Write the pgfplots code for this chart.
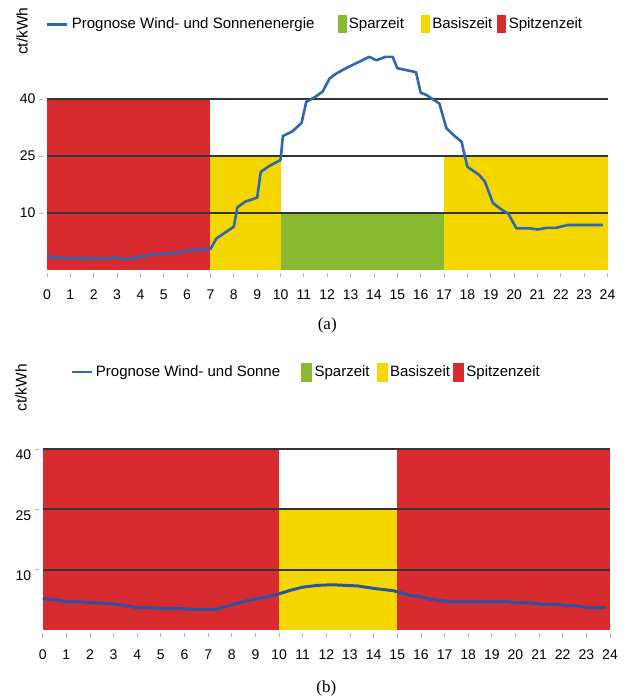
\documentclass[border=0pt]{standalone}
\usepackage{pgfplots}
\pgfplotsset{compat=1.18}
\usepackage{fontspec}
\setmainfont{Liberation Sans}
\newfontfamily\capfont{Liberation Serif}
\definecolor{cred}{HTML}{D82B2F}
\definecolor{cyel}{HTML}{F5D700}
\definecolor{cgrn}{HTML}{8ABA32}
\definecolor{cbluea}{HTML}{2D67AF}
\definecolor{cblueb}{HTML}{2B52A0}
\definecolor{cgrid}{HTML}{333333}
\pgfplotsset{bandchart/.style={
  scale only axis, axis line style={draw=none}, tick pos=left, tick align=outside,
  xmin=0, xmax=24, ymin=0, xtick={0,...,24}, ytick={1,2,3}, yticklabels={10,25,40},
  major tick length=4pt, tick style={draw=black!30, line width=0.8pt},
  xtick style={yshift=-3pt}, ytick style={xshift=-4pt},
  ticklabel style={font=\fontsize{14}{16}\selectfont},
  xticklabel style={yshift=-12pt},
  yticklabel style={xshift=-4pt},
  /pgf/number format/assume math mode=true,
  clip=false,
  legend columns=4,
  legend style={draw=none, fill=none, font=\fontsize{15}{17}\selectfont, anchor=west,
    inner sep=0pt, nodes={inner xsep=3pt, inner ysep=0pt}},
  ylabel={ct/kWh}, ylabel style={font=\fontsize{15.5}{17}\selectfont, anchor=center},
  xlabel style={font=\capfont\fontsize{17}{19}\selectfont, anchor=center},
}}
\begin{document}
\begin{tikzpicture}
\useasboundingbox (0pt,0pt) rectangle (624pt,-699pt);
% ---------------- panel (a)
\begin{axis}[bandchart,
  at={(47pt,-270pt)}, anchor=south west,
  width=560.5pt, height=216.6pt, ymax=3.8,
  ylabel style={at={(axis description cs:-0.0446,1.103)}},
  xlabel={(a)}, xlabel style={at={(axis description cs:0.5,-0.254)}},
  legend style={at={(axis description cs:-0.002,1.135)},
    /tikz/column 2/.style={column sep=20pt},
    /tikz/column 4/.style={column sep=14pt},
    /tikz/column 6/.style={column sep=2pt}},
]
\addplot[fill=cred, draw=none, forget plot] coordinates {(0,3) (7,3)} \closedcycle;
\addplot[fill=cyel, draw=none, forget plot] coordinates {(7,2) (10,2)} \closedcycle;
\addplot[fill=cgrn, draw=none, forget plot] coordinates {(10,1) (17,1)} \closedcycle;
\addplot[fill=cyel, draw=none, forget plot] coordinates {(17,2) (24,2)} \closedcycle;
\addplot[cgrid, line width=1.8pt, forget plot] coordinates {(0,1) (24,1)};
\addplot[cgrid, line width=1.8pt, forget plot] coordinates {(0,2) (24,2)};
\addplot[cgrid, line width=1.8pt, forget plot] coordinates {(0,3) (24,3)};
\addplot[cbluea, line width=2.6pt, line join=round, forget plot] coordinates {
(0,0.245)(0.3,0.22)(1,0.205)(2,0.2)(2.7,0.2)(3,0.225)(3.3,0.19)(3.6,0.2)(4,0.235)
(4.5,0.27)(5,0.29)(5.5,0.3)(6,0.335)(6.5,0.36)(7,0.37)(7.25,0.55)(7.6,0.65)(8,0.76)
(8.15,1.1)(8.5,1.2)(9,1.27)(9.15,1.72)(9.5,1.82)(10,1.93)(10.1,2.35)(10.5,2.43)
(10.9,2.58)(11.1,2.95)(11.5,3.04)(11.8,3.13)(12.1,3.36)(12.4,3.45)(12.8,3.54)
(13.3,3.64)(13.8,3.74)(14.1,3.68)(14.5,3.74)(14.8,3.74)(15.0,3.54)(15.8,3.47)
(16.0,3.11)(16.25,3.07)(16.8,2.92)(17.1,2.49)(17.4,2.37)(17.75,2.25)(18.0,1.81)
(18.5,1.67)(18.75,1.55)(19.1,1.17)(19.5,1.05)(19.75,0.99)(20.1,0.73)(20.7,0.73)
(21.0,0.71)(21.4,0.74)(21.8,0.74)(22.3,0.79)(23.8,0.79)};
\addlegendimage{legend image code/.code={\draw[cbluea, line width=2.8pt] (0pt,0pt) -- (20pt,0pt);}}
\addlegendimage{legend image code/.code={\fill[cgrn] (0pt,-8.5pt) rectangle (8pt,8.5pt);}}
\addlegendimage{legend image code/.code={\fill[cyel] (0pt,-8.5pt) rectangle (8pt,8.5pt);}}
\addlegendimage{legend image code/.code={\fill[cred] (0pt,-8.5pt) rectangle (8pt,8.5pt);}}
\legend{Prognose Wind- und Sonnenenergie, Sparzeit, Basiszeit, Spitzenzeit}
\end{axis}
% ---------------- panel (b)
\begin{axis}[bandchart,
  at={(42.7pt,-630pt)}, anchor=south west,
  width=567.3pt, height=181pt, ymax=3,
  yticklabel style={yshift=-6pt},
  ylabel style={at={(axis description cs:-0.038,1.337)}},
  xlabel={(b)}, xlabel style={at={(axis description cs:0.5,-0.32)}},
  legend style={at={(axis description cs:0.048,1.425)},
    /tikz/column 2/.style={column sep=18pt},
    /tikz/column 4/.style={column sep=4pt},
    /tikz/column 6/.style={column sep=0pt}},
]
\addplot[fill=cred, draw=none, forget plot] coordinates {(0,3) (10,3)} \closedcycle;
\addplot[fill=cyel, draw=none, forget plot] coordinates {(10,2) (15,2)} \closedcycle;
\addplot[fill=cred, draw=none, forget plot] coordinates {(15,3) (24,3)} \closedcycle;
\addplot[cgrid, line width=1.8pt, forget plot] coordinates {(0,1) (24,1)};
\addplot[cgrid, line width=1.8pt, forget plot] coordinates {(0,2) (24,2)};
\addplot[cgrid, line width=1.8pt, forget plot] coordinates {(0,3) (24,3)};
\addplot[cblueb, line width=3pt, line join=round, forget plot] coordinates {
(0,0.52)(0.5,0.5)(1,0.47)(1.5,0.47)(2,0.45)(2.5,0.45)(3,0.43)(3.5,0.41)(4,0.37)
(4.5,0.37)(5,0.36)(5.5,0.36)(6,0.35)(6.5,0.34)(7,0.34)(7.3,0.34)(7.8,0.39)(8.3,0.45)
(8.7,0.49)(9.1,0.52)(9.6,0.56)(10,0.60)(10.5,0.66)(11,0.71)(11.65,0.74)(12.24,0.75)
(12.8,0.74)(13.33,0.73)(14,0.69)(14.85,0.65)(15.5,0.58)(16,0.55)(16.4,0.51)(17,0.48)
(17.4,0.47)(18,0.47)(19,0.47)(19.6,0.47)(20.1,0.45)(20.6,0.45)(21.1,0.43)(21.6,0.43)
(22.1,0.41)(22.6,0.40)(23.1,0.37)(23.8,0.37)};
\addlegendimage{legend image code/.code={\draw[cbluea, line width=2.8pt] (0pt,0pt) -- (20pt,0pt);}}
\addlegendimage{legend image code/.code={\fill[cgrn] (0pt,-9pt) rectangle (10pt,9pt);}}
\addlegendimage{legend image code/.code={\fill[cyel] (0pt,-9pt) rectangle (10pt,9pt);}}
\addlegendimage{legend image code/.code={\fill[cred] (0pt,-9pt) rectangle (10pt,9pt);}}
\legend{Prognose Wind- und Sonne, Sparzeit, Basiszeit, Spitzenzeit}
\end{axis}
\end{tikzpicture}
\end{document}
